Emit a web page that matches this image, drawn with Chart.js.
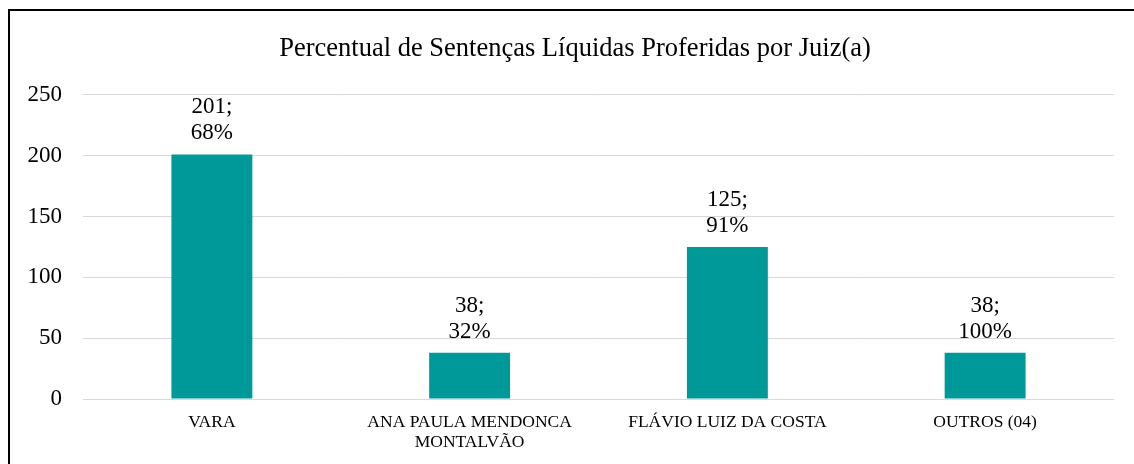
<!DOCTYPE html>
<html>
<head>
<meta charset="utf-8">
<script src="https://cdn.jsdelivr.net/npm/chart.js@4.4.0/dist/chart.umd.min.js"></script>
<style>
  body { margin: 0; background: #fff; overflow: hidden; }
  #frame { position: absolute; left: 8px; top: 9px; width: 1140px; height: 470px;
           border-top: 2px solid #000; border-left: 2px solid #000; }
  #wrap { position: absolute; left: 10px; top: 11px; width: 1130px; height: 453px; }
</style>
</head>
<body>
<div id="frame"></div>
<div id="wrap"><canvas id="grafico"></canvas></div>
<script>
// dados do grafico
var juizes = ["VARA", ["ANA PAULA MENDONCA", "MONTALVÃO"], "FLÁVIO LUIZ DA COSTA", "OUTROS (04)"];
var sentencas = [201, 38, 125, 38];
var percentuais = [68, 32, 91, 100];
var ticksY = [0, 50, 100, 150, 200, 250];

var fonte = "'Liberation Serif', 'Times New Roman', serif";

// rotulos "valor; pct%" acima das barras
var rotulos = {
  id: "rotulos",
  afterLayout: function (chart) {
    // centraliza o titulo no quadro inteiro
    chart.titleBlock.left = 26;
  },
  afterDatasetsDraw: function (chart) {
    var ctx = chart.ctx;
    var meta = chart.getDatasetMeta(0);
    ctx.save();
    ctx.fillStyle = "#000";
    ctx.font = "23px " + fonte;
    ctx.textAlign = "center";
    ctx.textBaseline = "middle";
    meta.data.forEach(function (bar, i) {
      ctx.fillText(sentencas[i] + ";", bar.x, bar.y - 47);
      ctx.fillText(percentuais[i] + "%", bar.x, bar.y - 21);
    });
    ctx.restore();
  }
};

new Chart(document.getElementById("grafico"), {
  type: "bar",
  data: {
    labels: juizes,
    datasets: [{
      data: sentencas,
      backgroundColor: "#009999",
      categoryPercentage: 1,
      barPercentage: 0.314
    }]
  },
  options: {
    responsive: true,
    maintainAspectRatio: false,
    animation: false,
    layout: { padding: { left: 0, right: 26, top: 0, bottom: 0 } },
    plugins: {
      legend: { display: false },
      tooltip: { enabled: false },
      title: {
        display: true,
        text: "Percentual de Sentenças Líquidas Proferidas por Juiz(a)",
        color: "#000",
        font: { family: fonte, size: 26.5, weight: "normal" },
        padding: { top: 22, bottom: 30 }
      }
    },
    scales: {
      x: {
        grid: { display: false },
        border: { display: false },
        afterFit: function (axis) { axis.height = 65; },
        ticks: {
          color: "#000",
          font: { family: fonte, size: 17.5, lineHeight: 1.15 },
          padding: 5,
          maxRotation: 0
        }
      },
      y: {
        min: 0,
        max: 250,
        afterBuildTicks: function (axis) {
          axis.ticks = ticksY.map(function (v) { return { value: v }; });
        },
        afterFit: function (axis) { axis.width = 73; },
        grid: { color: "#d9d9d9", drawTicks: false },
        border: { display: false },
        ticks: {
          color: "#000",
          font: { family: fonte, size: 23 },
          padding: 21
        }
      }
    }
  },
  plugins: [rotulos]
});
</script>
</body>
</html>
